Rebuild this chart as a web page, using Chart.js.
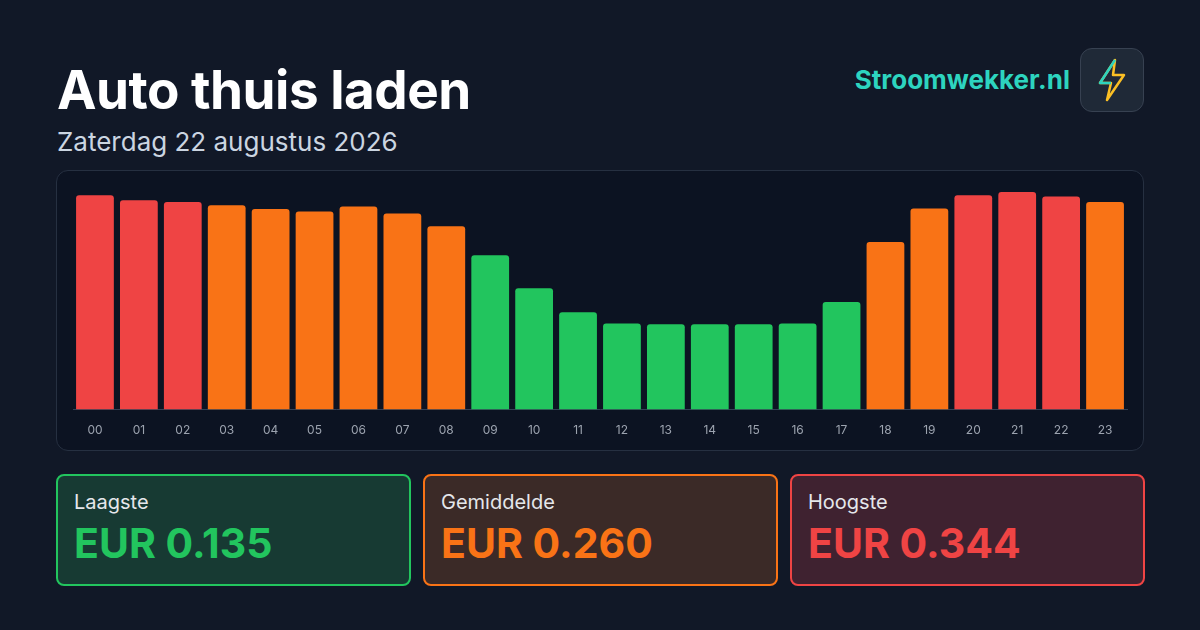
<!DOCTYPE html>
<html><head><meta charset="utf-8">
<script src="https://cdn.jsdelivr.net/npm/chart.js@4"></script>
<style>
body{margin:0;width:1200px;height:630px;background:#111827;font-family:Inter,sans-serif;color:#fff;position:relative;overflow:hidden}
#title{position:absolute;left:57px;top:58px;font-size:53px;font-weight:700;letter-spacing:-0.5px}
#sub{position:absolute;left:57px;top:126px;font-size:26px;color:#cbd5e1}
#brand{position:absolute;right:130px;top:64px;font-size:26px;font-weight:700;color:#2dd4bf}
#logo{position:absolute;left:1080px;top:48px;width:62px;height:62px;border-radius:12px;background:#1f2937;border:1px solid #374151;display:flex;align-items:center;justify-content:center}
#panel{position:absolute;left:56px;top:170px;width:1086px;height:279px;border:1px solid #263041;border-radius:12px;background:#0c1322}
.card{position:absolute;top:474px;width:351px;height:108px;border-radius:8px;border:2px solid}
.card .l{position:absolute;left:16px;top:14px;font-size:20px;color:#e5e7eb}
.card .v{position:absolute;left:16px;top:42px;font-size:41px;font-weight:700}
</style></head><body>
<div id="title">Auto thuis laden</div>
<div id="sub">Zaterdag 22 augustus 2026</div>
<div id="brand">Stroomwekker.nl</div>
<div id="logo"><svg width="34" height="44" viewBox="0 0 34 44"><path d="M20 2 L5 25 H16 L12 42 L29 17 H18 Z" fill="none" stroke="#fbbf24" stroke-width="2.5" stroke-linejoin="round"/><path d="M20 2 L5 25 H16" fill="none" stroke="#2dd4bf" stroke-width="2.5" stroke-linejoin="round"/></svg></div>
<div id="panel"><canvas id="c"></canvas></div>
<div class="card" style="left:56px;background:#173a33;border-color:#22c55e"><div class="l">Laagste</div><div class="v" style="color:#22c55e">EUR 0.135</div></div>
<div class="card" style="left:423px;background:#3b2a27;border-color:#f97316"><div class="l">Gemiddelde</div><div class="v" style="color:#f97316">EUR 0.260</div></div>
<div class="card" style="left:790px;background:#3f2230;border-color:#ef4444"><div class="l">Hoogste</div><div class="v" style="color:#ef4444">EUR 0.344</div></div>
<script>
const hours=["00","01","02","03","04","05","06","07","08","09","10","11","12","13","14","15","16","17","18","19","20","21","22","23"];
const prices=[0.339,0.331,0.328,0.323,0.317,0.313,0.321,0.310,0.290,0.244,0.192,0.154,0.136,0.135,0.135,0.135,0.136,0.170,0.265,0.318,0.339,0.344,0.337,0.328];
const levels=["h","h","h","m","m","m","m","m","m","l","l","l","l","l","l","l","l","l","m","m","h","h","h","m"];
const colorMap={h:"#ef4444",m:"#f97316",l:"#22c55e"};
const cv=document.getElementById('c');cv.width=1086;cv.height=279;cv.style.width='1086px';cv.style.height='279px';
new Chart(cv,{type:'bar',data:{labels:hours,datasets:[{data:prices,backgroundColor:levels.map(k=>colorMap[k]),borderRadius:{topLeft:3,topRight:3},borderSkipped:'bottom',categoryPercentage:1,barPercentage:0.86}]},
options:{responsive:false,animation:false,layout:{padding:{left:16,right:16,top:21,bottom:6}},plugins:{legend:{display:false},tooltip:{enabled:false}},
scales:{y:{display:false,min:0,max:0.344},x:{grid:{display:false},border:{display:true,color:'#334155'},ticks:{color:'#9ca3af',font:{family:'Inter',size:12},padding:6}}}}});
</script></body></html>
